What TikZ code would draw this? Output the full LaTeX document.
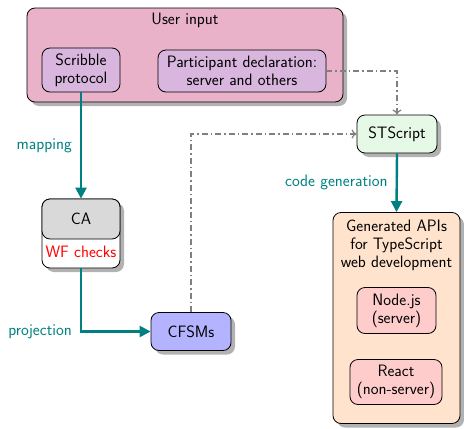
\documentclass[tikz,border=0pt]{standalone}
\usetikzlibrary{shadows,arrows.meta,positioning}
\definecolor{userpink}{RGB}{234,178,200}
\definecolor{lilac}{RGB}{217,182,222}
\definecolor{stgreen}{RGB}{230,248,230}
\definecolor{peach}{RGB}{255,227,204}
\definecolor{rosy}{RGB}{255,204,204}
\definecolor{cagray}{RGB}{217,217,217}
\definecolor{cfblue}{RGB}{179,179,255}
\definecolor{tealc}{RGB}{0,128,128}
\tikzset{
  box/.style={draw=black, line width=0.8pt, rounded corners=8pt, align=center, inner sep=0pt,
    font=\sffamily\fontsize{16.5}{18}\selectfont},
  shad/.style={drop shadow={shadow xshift=4pt, shadow yshift=-4pt, fill=black!30, opacity=1}},
  flow/.style={draw=tealc, line width=2.4pt, -{Triangle[length=11pt,width=11pt]}},
  dd/.style={draw=black!50, line width=1.2pt, dash pattern=on 6pt off 3pt on 1.5pt off 3pt, -{To[length=5pt,width=9pt]}},
  lbl/.style={text=tealc, font=\sffamily\fontsize{16.5}{18}\selectfont, inner sep=0pt},
}
\begin{document}
\begin{tikzpicture}[x=1pt,y=-1pt]
\useasboundingbox (0,0) rectangle (464,429);
% User input
\node[box, shad, fill=userpink, minimum width=316pt, minimum height=94pt] (user) at (185,55) {};
\node[box, draw=none, anchor=center] (usertitle) at (185,20) {User input};
\node[box, fill=lilac, minimum width=78pt, minimum height=44pt] (scribble) at (81,70) {Scribble\\protocol};
\node[box, fill=lilac, minimum width=168pt, minimum height=42pt] (part) at (242,71) {Participant declaration:\\server and others};
% STScript
\node[box, shad, fill=stgreen, minimum width=80pt, minimum height=38pt] (st) at (397,134) {STScript};
% CA
\node[box, shad, fill=white, minimum width=78pt, minimum height=69pt] (ca) at (81,233.5) {};
\node[box, fill=cagray, minimum width=78pt, minimum height=40pt] (catop) at (81,219) {CA};
\node[box, draw=none, text=red] (wf) at (81,252) {WF checks};
% CFSMs
\node[box, shad, fill=cfblue, minimum width=80pt, minimum height=38pt] (cfsm) at (191,331.5) {CFSMs};
% Generated
\node[box, shad, fill=peach, minimum width=127pt, minimum height=211pt] (gen) at (396.5,318) {};
\node[box, draw=none] (gentitle) at (396.5,245) {Generated APIs\\for TypeScript\\web development};
\node[box, fill=rosy, minimum width=79pt, minimum height=46pt] (nodejs) at (396.5,310.5) {Node.js\\(server)};
\node[box, fill=rosy, minimum width=92pt, minimum height=45pt] (react) at (396,382) {React\\(non-server)};
% connectors
\coordinate (c1) at (st.north |- part.east);
\draw[dd] (part.east) -- (c1) -- (st.north);
\coordinate (c2) at (cfsm.north |- st.west);
\draw[dd] (cfsm.north) -- (c2) -- (st.west);
\draw[flow] (scribble.south) -- node[lbl, left=8pt, pos=0.5] (lmap) {mapping} (catop.north);
\coordinate (c3) at (ca.south |- cfsm.west);
\draw[flow] (ca.south) -- (c3) -- node[lbl, pos=0, left=8pt] (lproj) {projection} (cfsm.west);
\draw[flow] (st.south) -- node[lbl, left=8pt, pos=0.5] (lcode) {code generation} (gen.north);
\end{tikzpicture}
\end{document}
